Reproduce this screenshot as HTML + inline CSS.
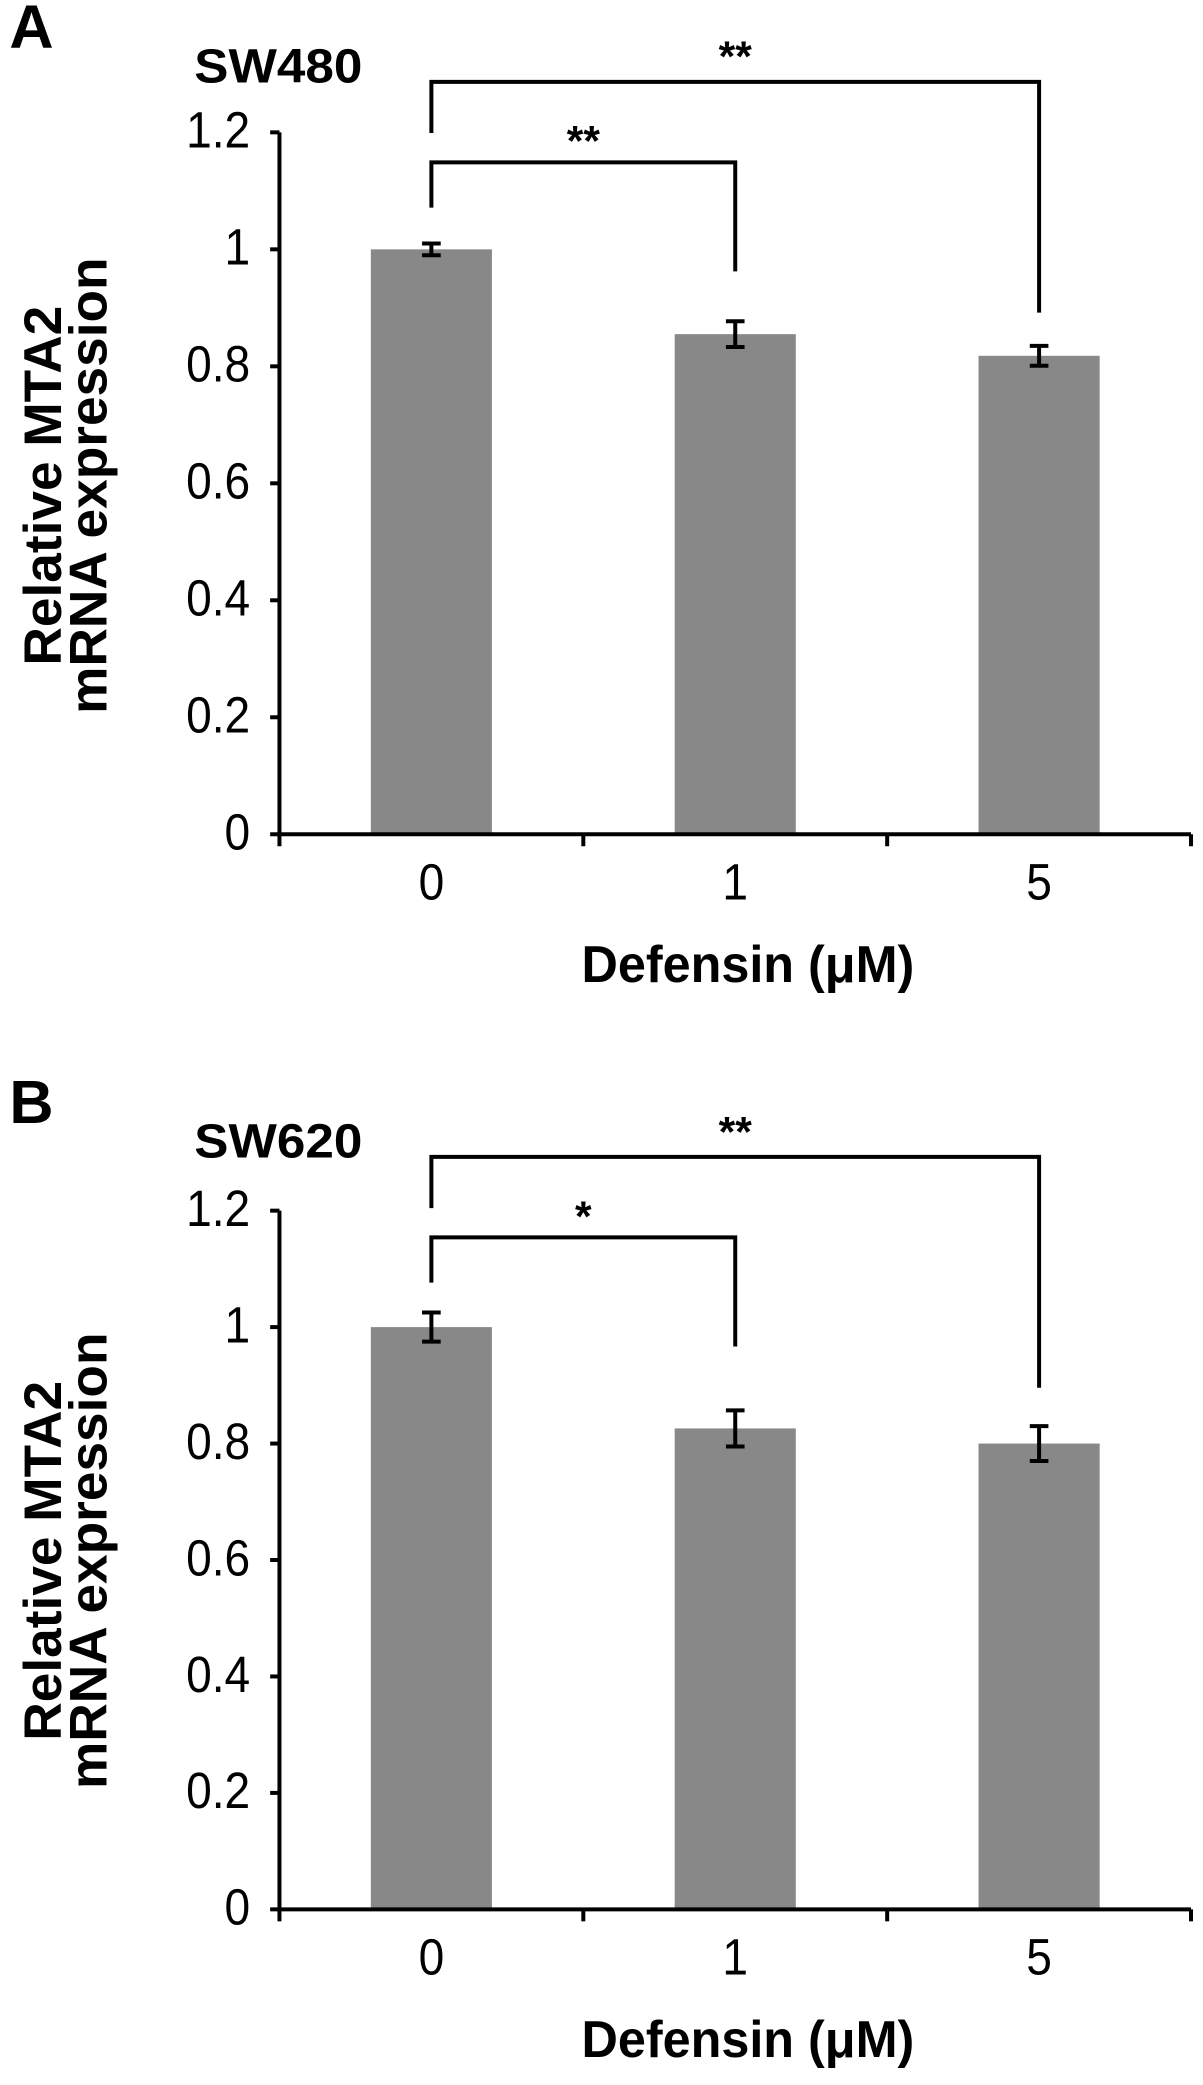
<!DOCTYPE html>
<html><head><meta charset="utf-8"><style>
html,body{margin:0;padding:0;background:#fff;}
svg{display:block;}
text{font-family:"Liberation Sans",Arial,sans-serif;fill:#000;}
</style></head>
<body>
<svg id="fig" width="1203" height="2085" viewBox="0 0 904 1567" preserveAspectRatio="none" xmlns="http://www.w3.org/2000/svg"></svg>
<script>
const categories = ["0", "1", "5"];
const valuesA = [1.0, 0.855, 0.818];
const errorsA = [0.01, 0.022, 0.017];
const valuesB = [1.0, 0.826, 0.80];
const errorsB = [0.025, 0.031, 0.03];
const yTicks = [0, 0.2, 0.4, 0.6, 0.8, 1.0, 1.2];
const yTickLabels = ["0", "0.2", "0.4", "0.6", "0.8", "1", "1.2"];
const sigA = ["**", "**"];
const sigB = ["*", "**"];

const NS = "http://www.w3.org/2000/svg";
const svg = document.getElementById("fig");
function mk(tag, attrs, parent) {
  const e = document.createElementNS(NS, tag);
  for (const k in attrs) e.setAttribute(k, attrs[k]);
  (parent || svg).appendChild(e);
  return e;
}
function stxt(parent, x, y, sx, size, bold, anchor, str) {
  const t = mk("text", {transform: `translate(${x} ${y}) scale(${sx} 1)`, "font-size": size, "font-weight": bold ? "bold" : "normal", "text-anchor": anchor}, parent);
  t.textContent = str;
  return t;
}
function panel(letter, cell, values, errors, sig, y0, unit) {
  const g = mk("g", {});
  
  
  const xL = 210, xR = 895, step = (xR - xL) / 3;
  const xc = i => xL + step * (i + 0.5);
  const ys = v => y0 - v * unit;
  const bw = 91;
  const pl = stxt(g, 7, y0 - 591, 1, 46, true, "start", letter);
  
  
  const ct = stxt(g, 146, y0 - 565, 1.07, 36, true, "start", cell);
  
  
  values.forEach((v, i) => {
    const r = mk("rect", {x: xc(i) - bw / 2, y: ys(v), width: bw, height: y0 - ys(v), fill: "#888888"}, g);
    
    
    const e = errors[i];
    const eb = mk("path", {d: `M${xc(i)} ${ys(v + e)}V${ys(v - e)}M${xc(i) - 7} ${ys(v + e)}H${xc(i) + 7}M${xc(i) - 7} ${ys(v - e)}H${xc(i) + 7}`, stroke: "#000", "stroke-width": 3, fill: "none"}, g);
    
    
  });
  const ax = mk("path", {d: `M${xL} ${ys(1.2)}V${y0}H${xR}`, stroke: "#000", "stroke-width": 3, fill: "none"}, g);
  
  
  yTicks.forEach((t, i) => {
    mk("line", {x1: xL - 7, x2: xL, y1: ys(t), y2: ys(t), stroke: "#000", "stroke-width": 3}, g);
    const tl = stxt(g, xL - 22, ys(t) + 11.5, 0.9, 38.5, false, "end", yTickLabels[i]);
    
    
  });
  for (let i = 0; i <= 3; i++) mk("line", {x1: xL + step * i, x2: xL + step * i, y1: y0, y2: y0 + 9, stroke: "#000", "stroke-width": 3}, g);
  categories.forEach((c, i) => {
    const xl = stxt(g, xc(i), y0 + 49, 0.9, 38.5, false, "middle", c);
    
    
  });
  const xt = stxt(g, 562, y0 + 111, 0.97, 39, true, "middle", "Defensin (μM)");
  
  
  const yt = mk("text", {transform: `translate(46 ${y0 - 262}) rotate(-90)`, "font-size": 40, "font-weight": "bold", "text-anchor": "middle"}, g);
  
  
  const t1 = mk("tspan", {x: 0, y: 0}, yt); t1.textContent = "Relative MTA2";
  const t2 = mk("tspan", {x: 0, y: 34}, yt); t2.textContent = "mRNA expression";
  const topY = y0 - 565.5, inY = y0 - 505;
  const b1 = mk("path", {d: `M${xc(0)} ${y0 - 471}V${inY}H${xc(1)}V${y0 - 423}`, stroke: "#000", "stroke-width": 3, fill: "none"}, g);
  
  
  const b2 = mk("path", {d: `M${xc(0)} ${y0 - 527}V${topY}H${xc(2)}V${y0 - 392}`, stroke: "#000", "stroke-width": 3, fill: "none"}, g);
  
  
  const s1 = stxt(g, (xc(0) + xc(1)) / 2, inY - 5, 1, 32, true, "middle", sig[0]);
  
  
  const s2 = stxt(g, (xc(0) + xc(2)) / 2, topY - 8, 1, 32, true, "middle", sig[1]);
  
  
}
panel("A", "SW480", valuesA, errorsA, sigA, 627, 439.6);
panel("B", "SW620", valuesB, errorsB, sigB, 1435, 437.6);
</script>
</body></html>
